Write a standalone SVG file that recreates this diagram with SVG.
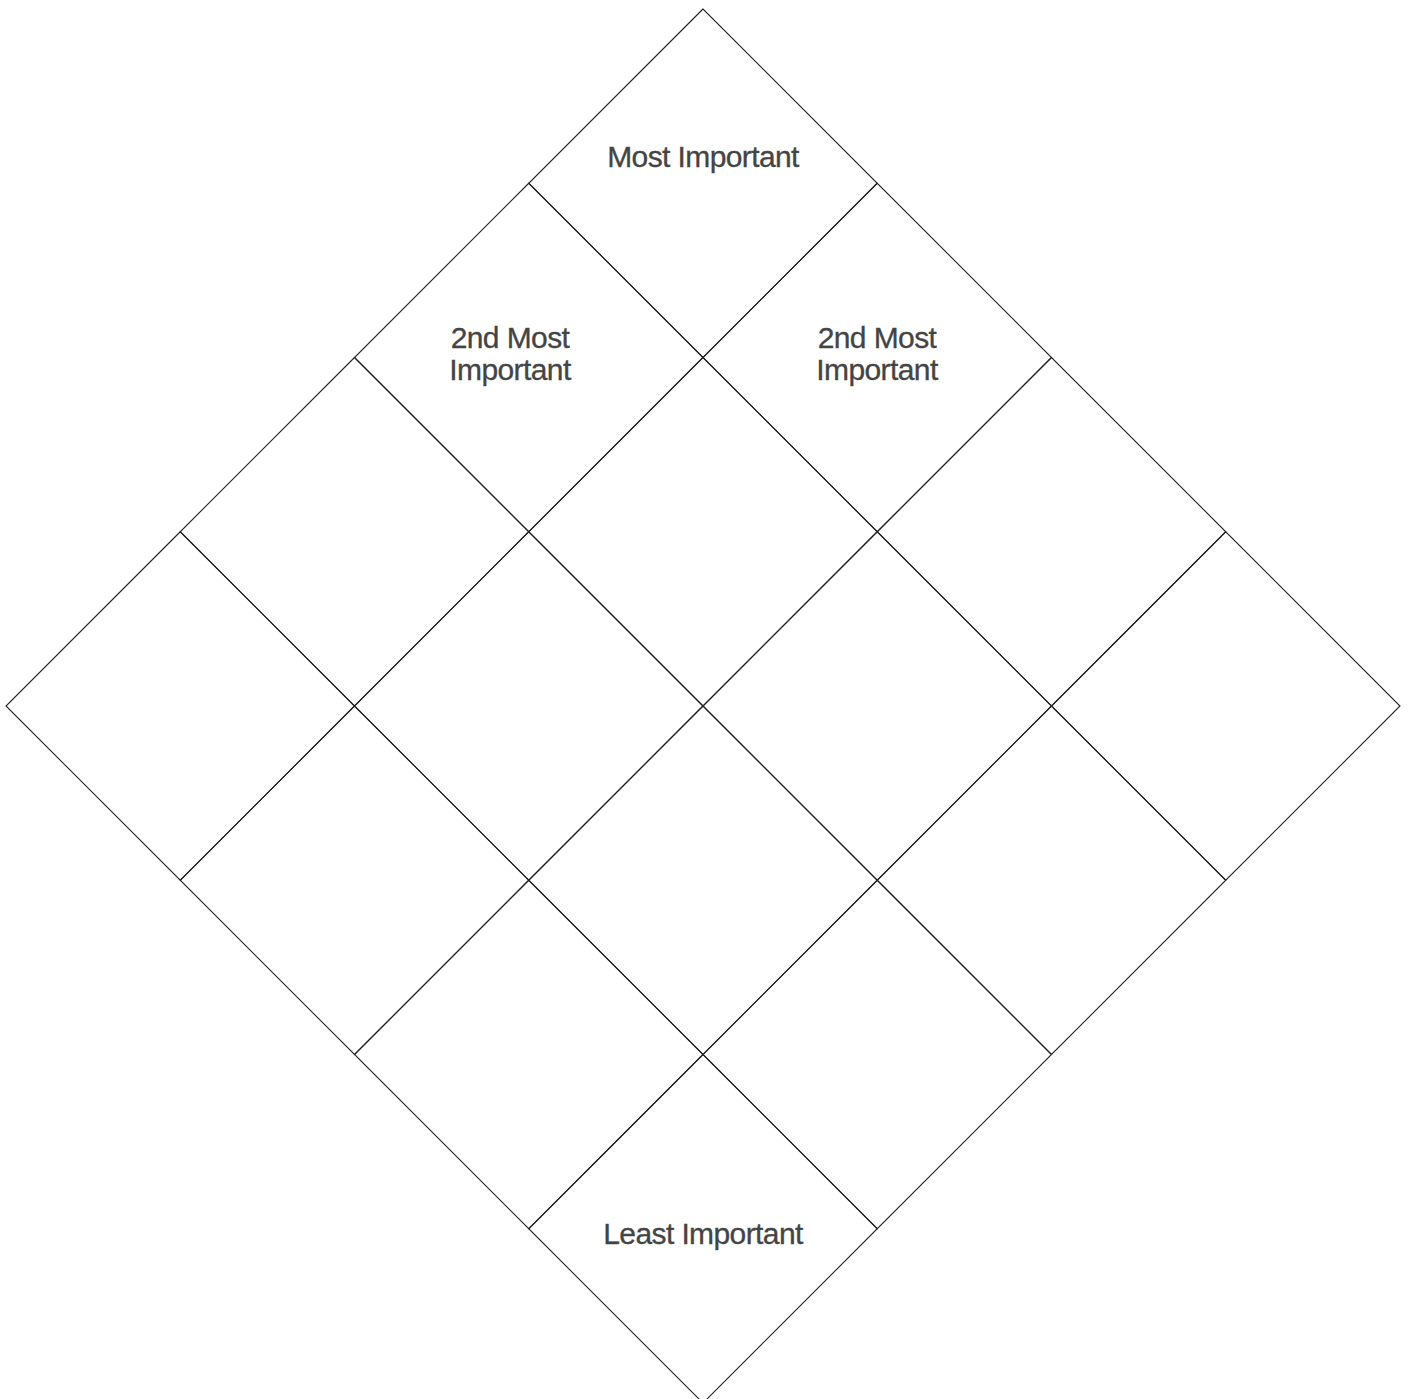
<svg xmlns="http://www.w3.org/2000/svg" width="1408" height="1399" viewBox="0 0 1408 1399">
<style>
.cell{fill:none;stroke:#222;stroke-width:1.1}
.lbl{font-family:"Liberation Sans",Arial,Helvetica,sans-serif;font-size:30px;letter-spacing:-0.6px;fill:#444;stroke:#444;stroke-width:0.3;text-anchor:middle}
</style>
<rect width="1408" height="1399" fill="#fff"/>
<defs>
<path id="sq" d="M0,0 L-174.25,174.25 L0,348.5 L174.25,174.25 Z"/>
</defs>
<g id="grid">
<g id="cell-0-0"><use href="#sq" class="cell" x="703" y="9"/></g>
<g id="cell-0-1"><use href="#sq" class="cell" x="877.25" y="183.25"/></g>
<g id="cell-0-2"><use href="#sq" class="cell" x="1051.5" y="357.5"/></g>
<g id="cell-0-3"><use href="#sq" class="cell" x="1225.75" y="531.75"/></g>
<g id="cell-1-0"><use href="#sq" class="cell" x="528.75" y="183.25"/></g>
<g id="cell-1-1"><use href="#sq" class="cell" x="703" y="357.5"/></g>
<g id="cell-1-2"><use href="#sq" class="cell" x="877.25" y="531.75"/></g>
<g id="cell-1-3"><use href="#sq" class="cell" x="1051.5" y="706"/></g>
<g id="cell-2-0"><use href="#sq" class="cell" x="354.5" y="357.5"/></g>
<g id="cell-2-1"><use href="#sq" class="cell" x="528.75" y="531.75"/></g>
<g id="cell-2-2"><use href="#sq" class="cell" x="703" y="706"/></g>
<g id="cell-2-3"><use href="#sq" class="cell" x="877.25" y="880.25"/></g>
<g id="cell-3-0"><use href="#sq" class="cell" x="180.25" y="531.75"/></g>
<g id="cell-3-1"><use href="#sq" class="cell" x="354.5" y="706"/></g>
<g id="cell-3-2"><use href="#sq" class="cell" x="528.75" y="880.25"/></g>
<g id="cell-3-3"><use href="#sq" class="cell" x="703" y="1054.5"/></g>
</g>
<g id="labels">
<text class="lbl" x="703" y="167">Most Important</text>
<text class="lbl" x="510" y="348">2nd Most</text>
<text class="lbl" x="510" y="380">Important</text>
<text class="lbl" x="877" y="348">2nd Most</text>
<text class="lbl" x="877" y="380">Important</text>
<text class="lbl" x="703" y="1244">Least Important</text>
</g>
</svg>
